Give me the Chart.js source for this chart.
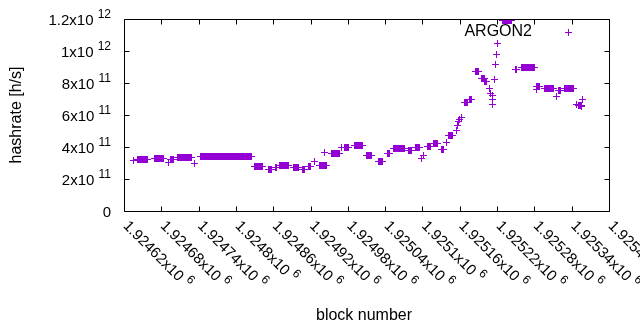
<!DOCTYPE html>
<html>
<head>
<meta charset="utf-8">
<script src="https://cdn.jsdelivr.net/npm/chart.js@4/dist/chart.umd.min.js"></script>
<style>
html,body{margin:0;padding:0;background:#fff;}
canvas{display:block;}
</style>
</head>
<body>
<canvas id="c" width="640" height="330"></canvas>
<script>
// Flat runs of hashrate (one point per block inside each run)
const segStart = [1924642,1924669,1924695,1924706,1924743,1924830,1924852,1924863,1924870,1924893,1924907,1924916,1924935,1924954,1924975,1924990,1925010,1925030,1925043,1925053,1925077,1925089,1925108,1925117,1925130,1925142,1925168,1925175,1925186,1925195,1925200,1925228,1925249,1925259,1925284,1925296,1925319,1925329,1925351];
const segEnd   = [1924657,1924683,1924700,1924729,1924825,1924843,1924858,1924866,1924884,1924900,1924910,1924920,1924946,1924967,1924981,1925004,1925018,1925035,1925047,1925071,1925083,1925096,1925113,1925124,1925134,1925148,1925173,1925179,1925190,1925199,1925203,1925243,1925252,1925280,1925288,1925311,1925322,1925343,1925355];
const segRate  = [3.19e11,3.31e11,3.2e11,3.36e11,3.43e11,2.8e11,2.62e11,2.71e11,2.85e11,2.69e11,2.6e11,2.77e11,2.86e11,3.6e11,3.94e11,4.1e11,3.48e11,3.12e11,3.6e11,3.92e11,3.81e11,3.97e11,4.02e11,4.19e11,3.87e11,4.73e11,6.8e11,6.96e11,8.75e11,8.31e11,8.1e11,1.19e12,8.83e11,9.0e11,7.81e11,7.67e11,7.54e11,7.67e11,6.62e11];
// Isolated points
const oneBlock = [1924635,1924691,1924734,1924927,1924943,1924969,1925099,1925101,1925138,1925154,1925156,1925158,1925160,1925163,1925208,1925210,1925213,1925212,1925212,1925216,1925217,1925219,1925220,1925283,1925316,1925348,1925356,1925358];
const oneRate  = [3.15e11,3.06e11,2.94e11,3.1e11,3.65e11,3.95e11,3.29e11,3.5e11,4.27e11,5.06e11,5.37e11,5.58e11,5.73e11,5.86e11,7.67e11,7.36e11,7.25e11,6.94e11,6.67e11,8.19e11,9.13e11,9.79e11,1.048e12,7.6e11,7.15e11,6.67e11,6.52e11,6.94e11];

const xTickValues = [1924620,1924680,1924740,1924800,1924860,1924920,1924980,1925040,1925100,1925160,1925220,1925280,1925340,1925400];
const xTickMant = ["1.92462","1.92468","1.92474","1.9248","1.92486","1.92492","1.92498","1.92504","1.9251","1.92516","1.92522","1.92528","1.92534","1.9254"];
const xTickExp = ["6","6","6","6","6","6","6","6","6","6","6","6","6","6"];
const yTickValues = [0,2e11,4e11,6e11,8e11,1e12,1.2e12];
const yTickMant = ["0","2","4","6","8","1","1.2"];
const yTickExp = ["","11","11","11","11","12","12"];

const seriesName = "ARGON2";
const COLOR = "#9400D3";

const pts = [];
for (let i = 0; i < segStart.length; i++) {
  for (let b = segStart[i]; b <= segEnd[i]; b++) pts.push({x: b, y: segRate[i]});
}
oneBlock.forEach((b, i) => pts.push({x: b, y: oneRate[i]}));

// crisp gnuplot-style "+" marker (7x7, 1px arms)
const plus = document.createElement('canvas');
plus.width = 7; plus.height = 7;
(function(){
  const p = plus.getContext('2d');
  p.fillStyle = COLOR;
  p.fillRect(0, 3, 7, 1);
  p.fillRect(3, 0, 1, 7);
})();

const FONT = "Liberation Sans, Arial, sans-serif";
const TS = 15;

function labelWidth(ctx, mant, exp) {
  ctx.font = TS + "px " + FONT;
  let w = ctx.measureText(mant).width;
  if (exp) {
    w += ctx.measureText("x10 ").width;
    ctx.font = Math.round(TS*0.8) + "px " + FONT;
    w += ctx.measureText(exp).width;
  }
  return w;
}
function drawLabel(ctx, mant, exp, x, y) { // left, alphabetic baseline
  ctx.font = TS + "px " + FONT;
  const main = exp ? mant + "x10 " : mant;
  ctx.fillText(main, x, y);
  if (exp) {
    const w = ctx.measureText(main).width;
    ctx.font = Math.round(TS*0.8) + "px " + FONT;
    ctx.fillText(exp, x + w, y - 7);
  }
}

const gnuplotLook = {
  id: 'gnuplotLook',
  beforeDatasetsDraw(chart) {
    chart.ctx.imageSmoothingEnabled = false;
  },
  afterDatasetsDraw(chart) {
    const ctx = chart.ctx, a = chart.chartArea;
    ctx.imageSmoothingEnabled = true;
    const xs = chart.scales.x, ys = chart.scales.y;
    ctx.save();
    ctx.strokeStyle = "#000"; ctx.lineWidth = 1;
    const L = Math.round(a.left)+0.5, R = Math.round(a.right)+0.5, T = Math.round(a.top)+0.5, B = Math.round(a.bottom)+0.5;
    ctx.beginPath();
    ctx.rect(L, T, R-L, B-T);
    const tl = 5;
    xTickValues.forEach(v => {
      const px = Math.round(xs.getPixelForValue(v)) + 0.5;
      ctx.moveTo(px, B); ctx.lineTo(px, B - tl);
      ctx.moveTo(px, T); ctx.lineTo(px, T + tl);
    });
    yTickValues.forEach(v => {
      const py = Math.round(ys.getPixelForValue(v)) + 0.5;
      ctx.moveTo(L, py); ctx.lineTo(L + tl, py);
      ctx.moveTo(R, py); ctx.lineTo(R - tl, py);
    });
    ctx.stroke();

    ctx.fillStyle = "#000";
    ctx.textBaseline = "alphabetic"; ctx.textAlign = "left";
    // y tick labels
    yTickValues.forEach((v, i) => {
      const py = ys.getPixelForValue(v);
      const w = labelWidth(ctx, yTickMant[i], yTickExp[i]);
      drawLabel(ctx, yTickMant[i], yTickExp[i], 111 - w, py + 6);
    });
    // x tick labels, rotated
    xTickValues.forEach((v, i) => {
      const px = xs.getPixelForValue(v);
      ctx.save();
      ctx.translate(px + 2, a.bottom + 12);
      ctx.rotate(Math.PI/4);
      drawLabel(ctx, xTickMant[i], xTickExp[i], 0, 5);
      ctx.restore();
    });
    // axis titles
    ctx.font = "16px " + FONT;
    ctx.textAlign = "center"; ctx.textBaseline = "middle";
    ctx.fillText("block number", 364, 316);
    ctx.save();
    ctx.translate(17, 115);
    ctx.rotate(-Math.PI/2);
    ctx.fillText("hashrate [h/s]", 0, 0);
    ctx.restore();
    // key
    ctx.textAlign = "right"; ctx.textBaseline = "middle";
    ctx.fillText(seriesName, 532, 32);
    ctx.drawImage(plus, 565, 29);
    ctx.restore();
  }
};

new Chart(document.getElementById('c'), {
  type: 'scatter',
  data: { datasets: [{
    label: seriesName,
    data: pts,
    pointStyle: plus,
    pointRadius: 3.5,
    pointHoverRadius: 3.5,
    borderColor: COLOR,
    backgroundColor: COLOR,
    showLine: false
  }]},
  options: {
    responsive: false,
    animation: false,
    devicePixelRatio: 1,
    events: [],
    layout: { padding: { left: 124, right: 31, top: 19, bottom: 119 } },
    scales: {
      x: { type: 'linear', display: false, min: 1924620, max: 1925400 },
      y: { type: 'linear', display: false, min: 0, max: 1.2e12 }
    },
    plugins: { legend: { display: false }, tooltip: { enabled: false } }
  },
  plugins: [gnuplotLook]
});
</script>
</body>
</html>
